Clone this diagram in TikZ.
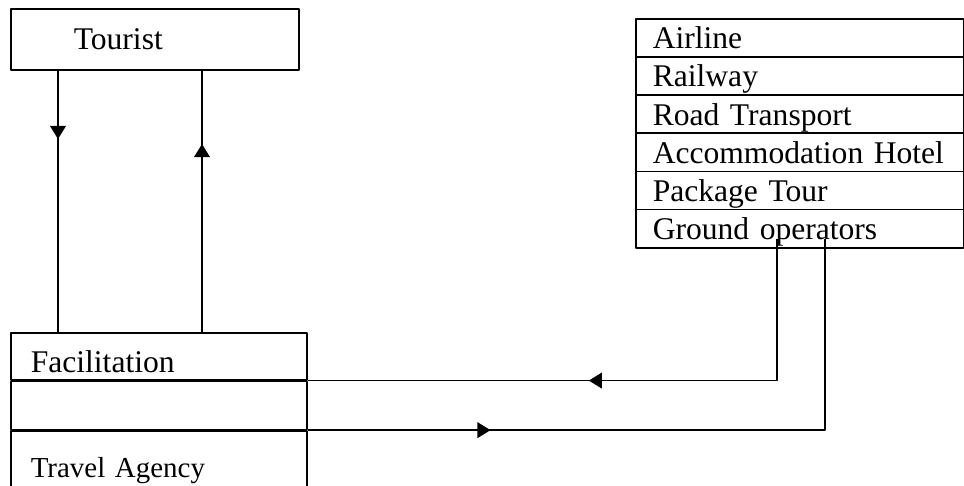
\documentclass[tikz,border=0pt]{standalone}
\usepackage{fontspec}
\setmainfont{Liberation Serif}
\usetikzlibrary{arrows.meta,decorations.markings,calc}
\begin{document}
\begin{tikzpicture}[x=0.38pt,y=-0.38pt,line width=0.6pt,line join=round,font=\fontsize{12}{14}\selectfont,
	box/.style={draw,anchor=north west,inner ysep=0pt,align=left},
	midarrow/.style={postaction={decorate},decoration={markings,mark=at position #1 with {\arrow{Triangle[width=6pt,length=5pt]}}}}]
	\clip (0,0) rectangle (964,486);
	%Tourist
	\node[box,inner xsep=23.94pt,text width=61.56pt,text height=15.58pt,text depth=7.6pt] (tourist) at (10,8) {Tourist};
	%Cac dich vu
	\foreach \n/\t [count=\i] in {air/Airline,rail/Railway,road/Road Transport,hotel/Accommodation Hotel,pkg/Package Tour,ground/Ground operators}{
		\node[box,inner xsep=6.46pt,text width=111.68pt,text height=11.4pt,text depth=3.1pt] (\n) at (635,{18+38.17*(\i-1)}) {\t};}
	%Travel Agency
	\node[box,inner xsep=7.6pt,text width=97.28pt,text height=15.2pt,text depth=2.66pt] (fac1) at (10,332) {Facilitation};
	\node[box,inner sep=0pt,minimum width=112.48pt,minimum height=18.24pt] (fac2) at (fac1.south west) {};
	\node[box,inner xsep=7.6pt,text width=97.28pt,text height=17.86pt,text depth=13.68pt,font=\fontsize{11}{13}\selectfont] (fac3) at (fac2.south west) {Travel Agency};
	\draw[midarrow=0.262] ($(tourist.south west)+(48,0)$)--($(fac1.north west)+(48,0)$);
	\draw[midarrow=0.719] ($(fac1.north west)+(192,0)$)--($(tourist.south west)+(192,0)$);
	\draw[midarrow=0.54] ($(ground.south west)+(142,-10)$)|-(fac1.south east);
	\draw[midarrow=0.258] (fac2.south east)-|($(ground.south west)+(190,-10)$);
\end{tikzpicture}
\end{document}
